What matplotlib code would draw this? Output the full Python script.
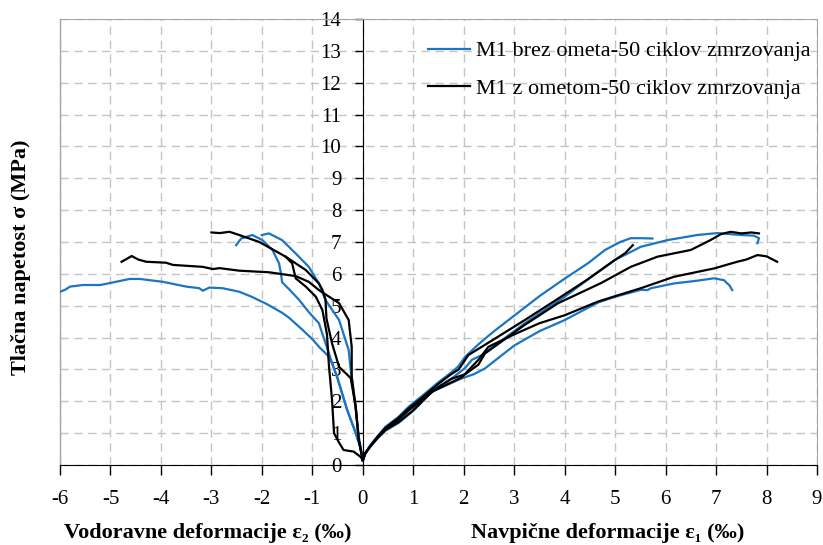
import matplotlib
matplotlib.use("Agg")
import matplotlib.pyplot as plt
from matplotlib.lines import Line2D

# ---- data (strain in per mille, stress in MPa) ----
# horizontal strains (negative side)
blue_l1_x = [0, -0.05, -0.14, -0.31, -0.51, -0.61, -0.7, -0.85, -1.0, -1.2, -1.46, -1.6, -1.9, -2.2,
             -2.45, -2.78, -3.04, -3.17, -3.24, -3.5, -3.96, -4.42, -4.62, -5.2, -5.55, -5.8, -5.9, -6.0]
blue_l1_y = [0.15, 0.57, 1.0, 1.73, 2.77, 3.2, 3.45, 3.68, 3.95, 4.25, 4.62, 4.78, 5.05, 5.28,
             5.44, 5.55, 5.57, 5.47, 5.55, 5.6, 5.75, 5.84, 5.84, 5.65, 5.65, 5.6, 5.5, 5.44]

blue_l2_x = [0, -0.05, -0.14, -0.31, -0.51, -0.61, -0.67, -0.87, -1.07, -1.26, -1.45, -1.6, -1.62,
             -1.66, -1.79, -1.99, -2.19, -2.41, -2.51]
blue_l2_y = [0.15, 0.57, 1.0, 1.73, 2.77, 3.2, 3.5, 4.45, 4.8, 5.18, 5.5, 5.74, 6.0,
             6.33, 6.75, 7.06, 7.22, 7.11, 6.9]

blue_l3_x = [0, -0.08, -0.16, -0.24, -0.28, -0.47, -0.74, -0.87, -1.07, -1.33, -1.6, -1.86, -2.0]
blue_l3_y = [0.15, 0.9, 2.0, 3.0, 3.61, 4.55, 5.18, 5.7, 6.22, 6.64, 7.06, 7.27, 7.22]

black_l1_x = [0, -0.08, -0.14, -0.22, -0.22, -0.28, -0.47, -0.87, -1.07, -1.33, -1.86, -2.45, -2.84,
              -2.97, -3.17, -3.76, -3.9, -4.29, -4.45, -4.58, -4.7, -4.78]
black_l1_y = [0.15, 0.78, 1.82, 2.77, 3.71, 4.55, 5.08, 5.49, 5.75, 5.93, 6.05, 6.1, 6.18,
              6.15, 6.22, 6.28, 6.35, 6.38, 6.45, 6.56, 6.45, 6.38]

black_l2_x = [0, -0.08, -0.14, -0.24, -0.47, -0.61, -0.72, -0.74, -0.8, -0.87, -1.13, -1.53, -2.05,
              -2.45, -2.64, -2.84, -3.0]
black_l2_y = [0.15, 0.78, 1.82, 2.73, 3.08, 3.82, 4.6, 5.2, 5.5, 5.7, 6.12, 6.54, 7.0,
              7.22, 7.32, 7.28, 7.3]

black_l3_x = [0, -0.04, -0.18, -0.38, -0.47, -0.57, -0.61, -0.67, -0.71, -0.8, -0.93, -1.13, -1.33,
              -1.4, -1.53]
black_l3_y = [0.15, 0.25, 0.42, 0.47, 0.7, 1.0, 2.05, 3.1, 4.1, 4.86, 5.28, 5.6, 5.86,
              6.33, 6.54]

# vertical strains (positive side)
blue_r1_x = [0, 0.05, 0.15, 0.3, 0.45, 0.7, 0.91, 1.2, 1.5, 1.75, 1.89, 2.03, 2.3, 2.6, 3.01, 3.5,
             4.0, 4.46, 4.8, 5.1, 5.31, 5.5, 5.74]
blue_r1_y = [0.15, 0.37, 0.62, 0.92, 1.2, 1.5, 1.83, 2.2, 2.6, 2.9, 3.09, 3.4, 3.8, 4.2, 4.7, 5.3,
             5.85, 6.33, 6.75, 7.0, 7.12, 7.12, 7.11]

blue_r2_x = [0, 0.05, 0.15, 0.3, 0.45, 0.7, 0.91, 1.2, 1.5, 1.75, 2.03, 2.16, 2.36, 3.21, 4.0, 4.53,
             4.99, 5.51, 6.04, 6.63, 7.03, 7.48, 7.75, 7.85, 7.82]
blue_r2_y = [0.15, 0.37, 0.6, 0.88, 1.13, 1.42, 1.72, 2.08, 2.45, 2.7, 3.05, 3.3, 3.45, 4.45, 5.28, 5.91,
             6.43, 6.85, 7.06, 7.22, 7.28, 7.22, 7.2, 7.12, 6.96]

blue_r3_x = [0, 0.05, 0.15, 0.3, 0.45, 0.71, 1.0, 1.37, 1.96, 2.2, 2.42, 3.0, 3.5, 4.0, 4.66, 5.0,
             5.51, 5.64, 5.71, 6.17, 6.6, 6.96, 7.16, 7.22, 7.26, 7.32]
blue_r3_y = [0.15, 0.37, 0.58, 0.85, 1.08, 1.32, 1.7, 2.3, 2.72, 2.85, 3.03, 3.75, 4.2, 4.55, 5.1, 5.28,
             5.5, 5.49, 5.55, 5.7, 5.78, 5.86, 5.8, 5.7, 5.65, 5.49]

black_r1_x = [0, 0.05, 0.15, 0.3, 0.45, 0.7, 0.91, 1.2, 1.5, 1.75, 1.9, 2.09, 2.5, 3.21, 3.8, 4.46,
              4.99, 5.2, 5.35]
black_r1_y = [0.15, 0.37, 0.6, 0.9, 1.17, 1.47, 1.78, 2.15, 2.55, 2.85, 3.0, 3.45, 3.85, 4.55, 5.15, 5.83,
              6.43, 6.65, 6.9]

black_r2_x = [0, 0.05, 0.15, 0.3, 0.45, 0.7, 0.91, 1.2, 1.5, 1.75, 2.03, 2.29, 2.42, 3.21, 3.87, 4.72,
              5.31, 5.84, 6.5, 6.89, 7.1, 7.29, 7.5, 7.7, 7.85]
black_r2_y = [0.15, 0.37, 0.6, 0.88, 1.13, 1.42, 1.72, 2.08, 2.45, 2.7, 2.85, 3.15, 3.5, 4.4, 5.08, 5.71,
              6.22, 6.54, 6.75, 7.06, 7.25, 7.32, 7.27, 7.3, 7.27]

black_r3_x = [0, 0.05, 0.15, 0.3, 0.45, 0.71, 1.0, 1.37, 1.96, 2.29, 2.49, 3.0, 3.5, 4.0, 4.66, 5.0,
              5.51, 6.17, 6.96, 7.42, 7.6, 7.82, 8.0, 8.21]
black_r3_y = [0.15, 0.37, 0.58, 0.86, 1.1, 1.35, 1.72, 2.3, 2.75, 3.3, 3.71, 4.1, 4.45, 4.7, 5.13, 5.3,
              5.55, 5.91, 6.17, 6.38, 6.45, 6.59, 6.55, 6.38]

label_blue = "M1 brez ometa-50 ciklov zmrzovanja"
label_black = "M1 z ometom-50 ciklov zmrzovanja"
x_ticks = list(range(-6, 10))
y_ticks = list(range(0, 15))

BLUE = "#1b75c2"
serif = ["Liberation Serif", "DejaVu Serif"]
plt.rcParams["font.family"] = serif

fig = plt.figure(figsize=(8.23, 5.45), dpi=100)
ax = fig.add_axes([60 / 823, 1 - 465 / 545, 757 / 823, 446 / 545])

blue_curves = [(blue_l1_x, blue_l1_y), (blue_l2_x, blue_l2_y), (blue_l3_x, blue_l3_y),
               (blue_r1_x, blue_r1_y), (blue_r2_x, blue_r2_y), (blue_r3_x, blue_r3_y)]
black_curves = [(black_l1_x, black_l1_y), (black_l2_x, black_l2_y), (black_l3_x, black_l3_y),
                (black_r1_x, black_r1_y), (black_r2_x, black_r2_y), (black_r3_x, black_r3_y)]

for i, (xs, ys) in enumerate(blue_curves):
    ax.plot(xs, ys, color=BLUE, lw=1.6, zorder=3, label=label_blue if i == 0 else None)
for i, (xs, ys) in enumerate(black_curves):
    ax.plot(xs, ys, color="black", lw=1.6, zorder=3, label=label_black if i == 0 else None)

ax.set_xlim(-6, 9)
ax.set_ylim(0, 14)
ax.set_xticks(x_ticks)
ax.set_xticklabels([str(v) for v in x_ticks])
ax.set_yticks(y_ticks)
ax.set_yticklabels([str(v) for v in y_ticks])
ax.tick_params(axis="x", direction="out", length=7, width=1, pad=11, labelsize=15)
ax.tick_params(axis="y", direction="out", length=6, width=1, pad=9.5, labelsize=15)

ax.grid(True, color="#c4c4c4", linestyle=(0, (6, 4)), linewidth=1)
ax.set_axisbelow(True)

# y axis sits at zero, the plot area keeps a grey frame
ax.spines["left"].set_position(("data", 0))
ax.spines["left"].set_color("black")
ax.spines["bottom"].set_color("black")
for s in ("top", "right"):
    ax.spines[s].set_color("#a6a6a6")
ax.add_line(Line2D([0, 0], [0, 1], transform=ax.transAxes, color="#a6a6a6", lw=1, clip_on=False))

ax.legend(loc="upper left", bbox_to_anchor=(0.486, 0.951), frameon=False, fontsize=16,
          handlelength=1.9, handletextpad=0.27, labelspacing=0.77, borderpad=0, borderaxespad=0)

fig.text(0.025, 0.5275, "Tlačna napetost σ (MPa)", rotation=90, ha="center", va="center",
         fontsize=16, fontweight="bold")
fig.text(0.252, 0.012, "Vodoravne deformacije ε₂ (‰)", ha="center", va="baseline",
         fontsize=16, fontweight="bold")
fig.text(0.738, 0.012, "Navpične deformacije ε₁ (‰)", ha="center", va="baseline",
         fontsize=16, fontweight="bold")

fig.savefig("out.png", dpi=100)
